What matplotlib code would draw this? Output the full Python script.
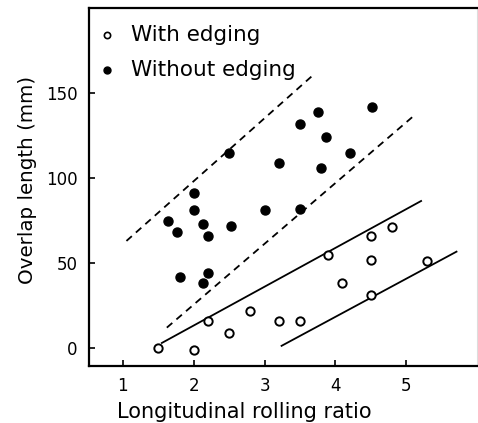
import matplotlib
matplotlib.use("Agg")
import matplotlib.pyplot as plt

# With edging (open circles)
with_x = [1.5, 2.0, 2.2, 2.5, 2.8, 3.2, 3.5, 3.9, 4.1, 4.5, 4.5, 4.5, 4.8, 5.3]
with_y = [0, -1, 16, 9, 22, 16, 16, 55, 38, 66, 52, 31, 71, 51]

# Without edging (filled circles)
without_x = [4.52, 3.75, 3.5, 3.87, 4.2, 2.5, 3.2, 3.8, 2.0, 2.0, 3.0, 3.5,
             1.64, 2.13, 2.53, 1.77, 2.2, 1.8, 2.2, 2.13]
without_y = [142, 139, 132, 124, 115, 115, 109, 106, 91, 81, 81, 82,
             75, 73, 72, 68, 66, 42, 44, 38]

# Band lines (endpoints)
dash_upper_x = [1.05, 3.67]
dash_upper_y = [63, 160]
dash_lower_x = [1.62, 5.09]
dash_lower_y = [12, 136]
solid_upper_x = [1.55, 5.21]
solid_upper_y = [3, 86.5]
solid_lower_x = [3.24, 5.71]
solid_lower_y = [1.3, 56.7]

xticks = [1, 2, 3, 4, 5]
yticks = [0, 50, 100, 150]

plt.rcParams['font.family'] = ['DejaVu Sans']

fig = plt.figure(figsize=(4.78, 4.23), dpi=100)
ax = fig.add_axes([0.186, 0.135, 0.812, 0.846])

ax.plot(dash_upper_x, dash_upper_y, color='black', lw=1.3, ls=(0, (4, 3)))
ax.plot(dash_lower_x, dash_lower_y, color='black', lw=1.3, ls=(0, (4, 3)))
ax.plot(solid_upper_x, solid_upper_y, color='black', lw=1.3)
ax.plot(solid_lower_x, solid_lower_y, color='black', lw=1.3)

ax.plot(with_x, with_y, 'o', ms=6, mfc='white', mec='black', mew=1.4, zorder=3)
ax.plot(without_x, without_y, 'o', ms=6.5, mfc='black', mec='black', zorder=3)

ax.set_xlim(0.52, 6.0)
ax.set_ylim(-10.5, 200)
ax.set_xticks(xticks)
ax.set_yticks(yticks)
ax.tick_params(direction='in', length=4, width=1.2, labelsize=12, pad=8)

for s in ['left', 'bottom', 'top']:
    ax.spines[s].set_linewidth(1.6)
ax.spines['right'].set_color('#dddddd')
ax.spines['right'].set_linewidth(0.8)

ax.set_xlabel('Longitudinal rolling ratio', fontsize=15, labelpad=3)
ax.xaxis.set_label_coords(0.40, -0.10)
ax.set_ylabel('Overlap length (mm)', fontsize=14.3, labelpad=6)
ax.yaxis.set_label_coords(-0.135, 0.52)

# Legend
ax.plot([0.775], [184], 'o', ms=4.5, mfc='white', mec='black', mew=1.2)
ax.plot([0.775], [163.5], 'o', ms=5, mfc='black', mec='black')
ax.text(1.12, 184, 'With edging', fontsize=15.5, va='center', ha='left')
ax.text(1.12, 163.5, 'Without edging', fontsize=15.5, va='center', ha='left')

fig.savefig('out.png', dpi=100)
